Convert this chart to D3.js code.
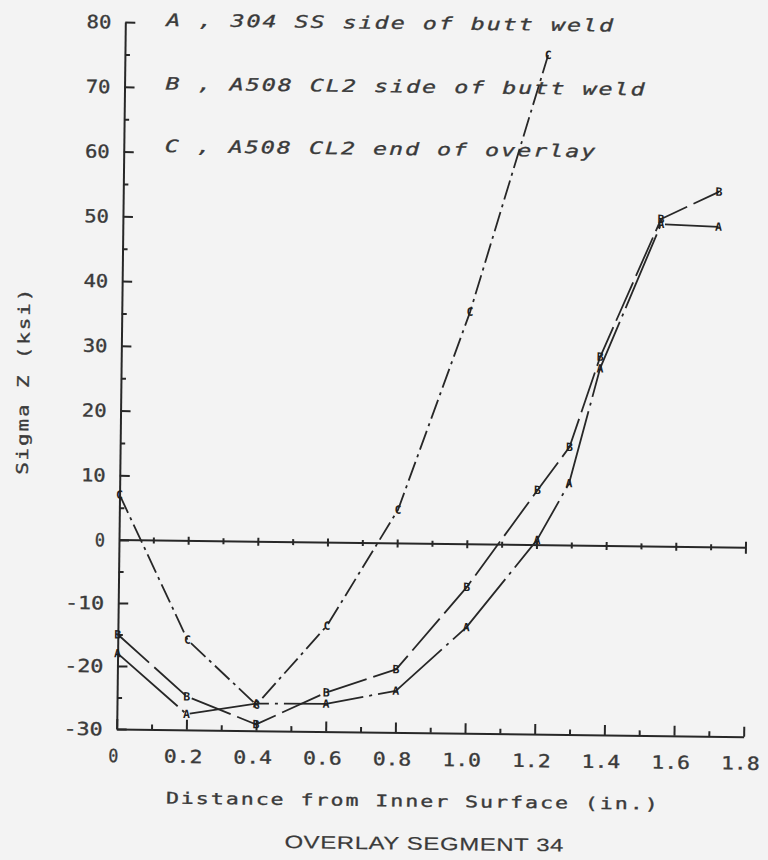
<!DOCTYPE html>
<html>
<head>
<meta charset="utf-8">
<script src="https://cdn.jsdelivr.net/npm/d3@7"></script>
<style>
  html, body { margin: 0; padding: 0; background: #f3f3f3; }
  svg { display: block; }
</style>
</head>
<body>
<svg id="chart" width="768" height="860"></svg>
<script>
// Distance from inner surface (in.) and axial stress Sigma Z (ksi) per curve
const xA = [0, 0.2, 0.4, 0.6, 0.8, 1.0, 1.2, 1.29, 1.375, 1.545, 1.71];
const sigmaA = [-18, -27.5, -25.7, -25.6, -23.4, -13.2, 0.8, 9.6, 27.4, 49.8, 49.5];

const xB = [0, 0.2, 0.4, 0.6, 0.8, 1.0, 1.2, 1.29, 1.375, 1.545, 1.71];
const sigmaB = [-15, -24.7, -29.0, -23.8, -20.0, -6.8, 8.5, 15.2, 29.2, 50.6, 54.9];

const xC = [0, 0.2, 0.4, 0.6, 0.8, 1.0, 1.215];
const sigmaC = [7, -15.7, -25.9, -13.2, 5.2, 35.9, 75.7];

const seriesKeys = ["A", "B", "C"];
const legendLabels = [
  "A , 304 SS side of butt weld",
  "B , A508 CL2 side of butt weld",
  "C , A508 CL2 end of overlay"
];

const xTicks = [0, 0.2, 0.4, 0.6, 0.8, 1.0, 1.2, 1.4, 1.6, 1.8];
const xTickLabels = ["0", "0.2", "0.4", "0.6", "0.8", "1.0", "1.2", "1.4", "1.6", "1.8"];
const xMinorTicks = [0.1, 0.3, 0.5, 0.7, 0.9, 1.1, 1.3, 1.5, 1.7];

const yTicks = [-30, -20, -10, 0, 10, 20, 30, 40, 50, 60, 70, 80];
const yTickLabels = ["-30", "-20", "-10", "0", "10", "20", "30", "40", "50", "60", "70", "80"];
const yMinorTicks = [-25, -15, -5, 5, 15, 25, 35, 45, 55, 65, 75];

const xTitle = "Distance from Inner Surface (in.)";
const yTitle = "Sigma Z (ksi)";
const caption = "OVERLAY SEGMENT 34";

// ---------------------------------------------------------------
const ink = "#272727";
const textInk = "#3a3a3a";
const mono = "'DejaVu Sans Mono', 'Liberation Mono', monospace";

const svg = d3.select("#chart");
// the whole sheet sits at a slight clockwise tilt
const sheet = svg.append("g").attr("transform", "rotate(0.7,119,540)");

const x = d3.scaleLinear().domain([0, 1.8]).range([119, 746]);
const y = d3.scaleLinear().domain([-30, 0, 80]).range([729, 540, 22]);

// plotter-style lettering: fixed pitch per character, stretched glyphs
function letter(parent, str, opts) {
  const n = str.length;
  const len = n * opts.pitch - 0.3 * opts.pitch;
  let x0 = opts.x;
  if (opts.anchor === "end") x0 = opts.x - len;
  if (opts.anchor === "middle") x0 = opts.x - len / 2;
  return parent.append("text")
    .attr("x", x0)
    .attr("y", opts.y)
    .attr("font-family", opts.family || mono)
    .attr("font-size", opts.size)
    .attr("font-style", opts.italic ? "italic" : "normal")
    .attr("letter-spacing", opts.spacing || 0)
    .attr("fill", opts.fill || textInk)
    .attr("stroke", opts.fill || textInk)
    .attr("stroke-width", opts.weight == null ? 0.35 : opts.weight)
    .attr("textLength", len)
    .attr("lengthAdjust", "spacingAndGlyphs")
    .text(str);
}

function styleAxis(sel, width) {
  sel.selectAll("path.domain").attr("stroke", ink).attr("stroke-width", width);
  sel.selectAll(".tick line").attr("stroke", ink).attr("stroke-width", width);
  sel.selectAll(".tick text").remove();
}

// left axis: major ticks inward
const yAxisG = sheet.append("g")
  .attr("transform", `translate(${x(0)},0)`)
  .call(d3.axisLeft(y).tickValues(yTicks).tickSizeInner(-10).tickSizeOuter(0).tickFormat(""));
styleAxis(yAxisG, 2);

const yMinorG = sheet.append("g")
  .attr("transform", `translate(${x(0)},0)`)
  .call(d3.axisLeft(y).tickValues(yMinorTicks).tickSizeInner(-5).tickSizeOuter(0).tickFormat(""));
styleAxis(yMinorG, 2);
yMinorG.select("path.domain").remove();

// bottom axis: ticks pointing up
const xAxisG = sheet.append("g")
  .attr("transform", `translate(0,${y(-30)})`)
  .call(d3.axisBottom(x).tickValues(xTicks).tickSizeInner(-10).tickSizeOuter(0).tickFormat(""));
styleAxis(xAxisG, 2);

const xMinorG = sheet.append("g")
  .attr("transform", `translate(0,${y(-30)})`)
  .call(d3.axisBottom(x).tickValues(xMinorTicks).tickSizeInner(-5).tickSizeOuter(0).tickFormat(""));
styleAxis(xMinorG, 2);
xMinorG.select("path.domain").remove();

// zero stress reference line with crossing ticks
const zeroG = sheet.append("g");
zeroG.append("line")
  .attr("x1", x(0)).attr("x2", x(1.8))
  .attr("y1", y(0)).attr("y2", y(0))
  .attr("stroke", ink).attr("stroke-width", 2);
zeroG.selectAll("line.zt")
  .data(xTicks.slice(1, -1).concat(xMinorTicks))
  .enter().append("line")
  .attr("class", "zt")
  .attr("x1", d => x(d)).attr("x2", d => x(d))
  .attr("y1", d => y(0) - (xTicks.includes(d) ? 4 : 3))
  .attr("y2", d => y(0) + (xTicks.includes(d) ? 4 : 3))
  .attr("stroke", ink).attr("stroke-width", 2);
zeroG.append("line")
  .attr("x1", x(1.8)).attr("x2", x(1.8))
  .attr("y1", y(0) - 6).attr("y2", y(0) + 6)
  .attr("stroke", ink).attr("stroke-width", 2);

// tick labels
yTicks.forEach((v, i) => {
  letter(sheet, yTickLabels[i], { x: x(0) - 14, y: y(v) + 6.5, size: 18, pitch: 14.5, anchor: "end" });
});
xTicks.forEach((v, i) => {
  letter(sheet, xTickLabels[i], { x: x(v) - 3, y: 762, size: 18, pitch: 14.3, anchor: "middle" });
});

// axis titles
letter(sheet, xTitle, { x: 416, y: 803, size: 16, pitch: 15.1, anchor: "middle", spacing: 1.5 });
const yt = sheet.append("g").attr("transform", "translate(27,382) rotate(-90)");
letter(yt, yTitle, { x: 0, y: 0, size: 16, pitch: 14.8, anchor: "middle", spacing: 1.5 });

// caption
letter(sheet, caption, { x: 428, y: 846, size: 18, pitch: 15.8, anchor: "middle",
  family: "'Liberation Sans', Arimo, sans-serif", spacing: 0.5, weight: 0.2 });

// legend
[25.5, 89, 151.5].forEach((yy, i) => {
  letter(sheet, legendLabels[i], { x: 160, y: yy, size: 17, pitch: 16.2, italic: true, spacing: 1.5 });
});

// curves
const series = [
  { key: seriesKeys[0], xs: xA, ys: sigmaA, dash: "80,6,3,6" },
  { key: seriesKeys[1], xs: xB, ys: sigmaB, dash: "42,7" },
  { key: seriesKeys[2], xs: xC, ys: sigmaC, dash: "20,5,3,5" }
];

const line = d3.line().x(d => x(d[0])).y(d => y(d[1]));

series.forEach(s => {
  const pts = s.xs.map((v, i) => [v, s.ys[i]]);
  sheet.append("path")
    .datum(pts)
    .attr("d", line)
    .attr("fill", "none")
    .attr("stroke", ink)
    .attr("stroke-width", 1.8)
    .attr("stroke-dasharray", s.dash)
    .attr("stroke-linejoin", "round");
  sheet.append("g").selectAll("text")
    .data(pts)
    .enter().append("text")
    .attr("x", d => x(d[0]))
    .attr("y", d => y(d[1]) + 4)
    .attr("text-anchor", "middle")
    .attr("font-family", mono)
    .attr("font-weight", "bold")
    .attr("font-size", 11.5)
    .attr("fill", "#1e1e1e")
    .text(s.key);
});
</script>
</body>
</html>
